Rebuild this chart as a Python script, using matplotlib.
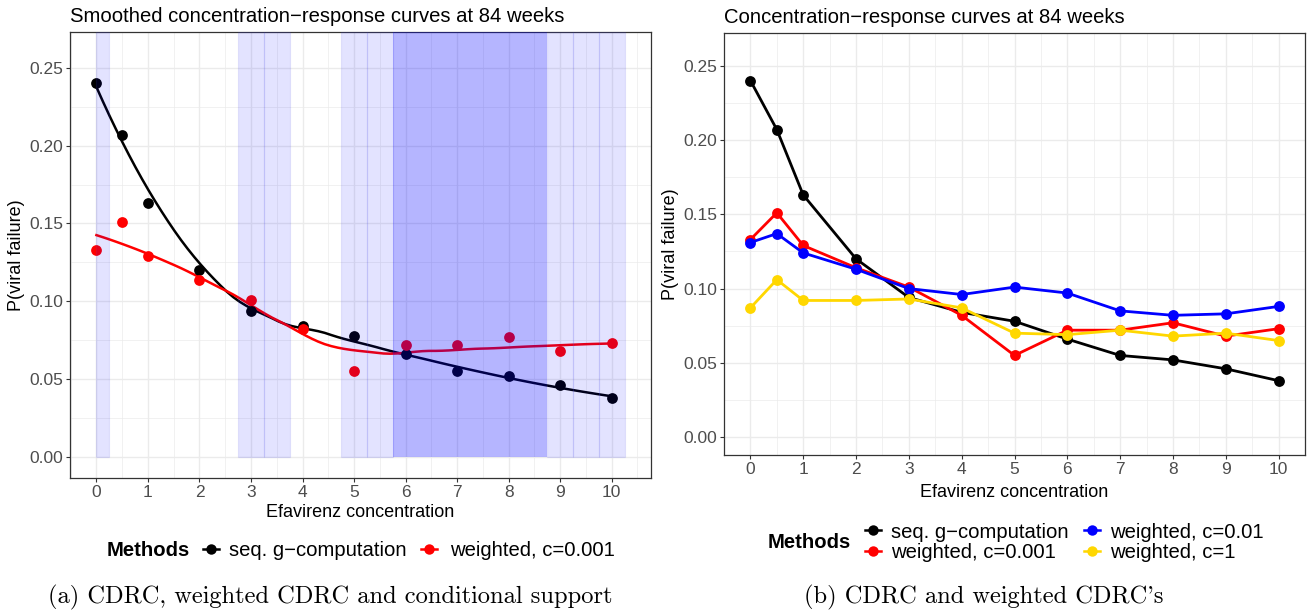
import numpy as np
import matplotlib
matplotlib.use("Agg")
import matplotlib.pyplot as plt
from matplotlib.lines import Line2D

# ---------------- data ----------------
conc = [0, 0.5, 1, 2, 3, 4, 5, 6, 7, 8, 9, 10]
seq_gcomp = [0.240, 0.207, 0.163, 0.120, 0.094, 0.084, 0.078, 0.066, 0.055, 0.052, 0.046, 0.038]
w_c0001 = [0.133, 0.151, 0.129, 0.114, 0.101, 0.082, 0.055, 0.072, 0.072, 0.077, 0.068, 0.073]
w_c001 = [0.131, 0.137, 0.124, 0.113, 0.100, 0.096, 0.101, 0.097, 0.085, 0.082, 0.083, 0.088]
w_c1 = [0.087, 0.106, 0.092, 0.092, 0.093, 0.087, 0.070, 0.069, 0.072, 0.068, 0.070, 0.065]

# conditional support intervals (x ranges)
support_light = [(0.0, 0.25), (2.75, 3.25), (3.25, 3.75), (4.75, 5.25), (5.25, 5.75),
                 (8.75, 9.25), (9.25, 9.75), (9.75, 10.25)]
support_dark = [(5.75, 8.75)]

x_ticks = [0, 1, 2, 3, 4, 5, 6, 7, 8, 9, 10]
y_ticks = [0.00, 0.05, 0.10, 0.15, 0.20, 0.25]
y_ticklabels = ["0.00", "0.05", "0.10", "0.15", "0.20", "0.25"]

MINUS = "\u2212"
labels = ["seq. g" + MINUS + "computation", "weighted, c=0.001", "weighted, c=0.01", "weighted, c=1"]
colors = ["black", "#FF0000", "#0000FF", "#FFD700"]


# ---------------- loess smoother (local quadratic, tricube, span 0.75, with
# kd-tree vertex + cubic Hermite interpolation as in R's loess) ----------------
def local_fit(x, y, x0, q):
    d = np.abs(x - x0)
    h = np.sort(d)[q - 1]
    w = np.clip(1 - (d / h) ** 3, 0, None) ** 3
    X = np.vstack([np.ones(len(x)), x - x0, (x - x0) ** 2]).T
    A = X.T @ (w[:, None] * X)
    b = X.T @ (w * y)
    beta = np.linalg.solve(A, b)
    return beta[0], beta[1]


def kd_vertices(xs_sorted, fc):
    verts = []

    def rec(pts):
        if len(pts) <= fc:
            return
        m = (len(pts) + 1) // 2  # 1-based lower median index
        v = (pts[m - 1] + pts[m]) / 2
        verts.append(v)
        rec(pts[:m])
        rec(pts[m:])

    rec(list(xs_sorted))
    return verts


def loess(x, y, xs, span=0.75, cell=0.2):
    x = np.asarray(x, float)
    y = np.asarray(y, float)
    n = len(x)
    q = int(np.floor(n * span))
    fc = max(1, int(np.floor(n * span * cell)))
    t = 0.005 * (x.max() - x.min())
    verts = sorted(set([x.min() - t, x.max() + t] + kd_vertices(np.sort(x), fc)))
    fits = [local_fit(x, y, v, q) for v in verts]
    out = []
    for x0 in xs:
        i = np.searchsorted(verts, x0) - 1
        i = min(max(i, 0), len(verts) - 2)
        v0, v1 = verts[i], verts[i + 1]
        (y0, s0), (y1, s1) = fits[i], fits[i + 1]
        hh = v1 - v0
        tt = (x0 - v0) / hh
        h00 = 2 * tt**3 - 3 * tt**2 + 1
        h10 = tt**3 - 2 * tt**2 + tt
        h01 = -2 * tt**3 + 3 * tt**2
        h11 = tt**3 - tt**2
        out.append(h00 * y0 + h10 * hh * s0 + h01 * y1 + h11 * hh * s1)
    return np.array(out)


plt.rcParams['font.family'] = ['Liberation Sans', 'DejaVu Sans']
W, H = 1309, 614
fig = plt.figure(figsize=(W / 100, H / 100), dpi=100)

TICK_FS = 12.5
AXT_FS = 13
TITLE_FS = 14.6
LEG_FS = 14.6


def style_axes(ax, xlim, ylim):
    ax.set_xlim(*xlim)
    ax.set_ylim(*ylim)
    ax.set_xticks(x_ticks)
    ax.set_xticks([v + 0.5 for v in range(-1, 11)], minor=True)
    ax.set_yticks(y_ticks)
    ax.set_yticklabels(y_ticklabels)
    ax.set_yticks([0.025, 0.075, 0.125, 0.175, 0.225], minor=True)
    ax.grid(which="major", color="#EBEBEB", linewidth=1.0, zorder=0)
    ax.grid(which="minor", color="#EBEBEB", linewidth=0.5, zorder=0)
    ax.set_axisbelow(True)
    ax.tick_params(which="major", length=3, width=0.8, color="#333333",
                   labelsize=TICK_FS, labelcolor="#4D4D4D", pad=2)
    ax.tick_params(which="minor", length=0)
    for s in ax.spines.values():
        s.set_color("#333333")
        s.set_linewidth(0.9)
    ax.set_ylabel("P(viral failure)", fontsize=AXT_FS, labelpad=3)


# ---------------- left panel ----------------
ax1 = fig.add_axes([70 / W, 1 - 478 / H, (651 - 70) / W, (478 - 32) / H])
style_axes(ax1, (-0.5125, 10.7625), (-0.0135, 0.273))
ax1.set_xlabel("Efavirenz concentration", fontsize=AXT_FS, labelpad=3)
xs = np.linspace(0, 10, 80)
ax1.plot(xs, loess(conc, seq_gcomp, xs), color=colors[0], lw=1.8, zorder=3)
ax1.plot(xs, loess(conc, w_c0001, xs), color=colors[1], lw=1.8, zorder=3)
ax1.scatter(conc, seq_gcomp, s=60, color=colors[0], zorder=4, linewidths=0)
ax1.scatter(conc, w_c0001, s=60, color=colors[1], zorder=4, linewidths=0)
for a, b in support_light:
    ax1.axvspan(a, b, ymin=0.0135 / 0.2865, ymax=1, facecolor=(0, 0, 1, 0.11),
                edgecolor=(0.3, 0.3, 0.9, 0.12), linewidth=0.8, zorder=5)
for a, b in support_dark:
    ax1.axvspan(a, b, ymin=0.0135 / 0.2865, ymax=1, facecolor=(0, 0, 1, 0.29),
                edgecolor="none", linewidth=0, zorder=5)
ax1.set_title("Smoothed concentration" + MINUS + "response curves at 84 weeks",
              loc="left", fontsize=TITLE_FS, pad=7)

# ---------------- right panel ----------------
ax2 = fig.add_axes([724 / W, 1 - 455 / H, (1305 - 724) / W, (455 - 33) / H])
style_axes(ax2, (-0.5, 10.5), (-0.012, 0.272))
ax2.set_xlabel("Efavirenz concentration", fontsize=AXT_FS, labelpad=5)
for series, c in zip([seq_gcomp, w_c0001, w_c001, w_c1], colors):
    ax2.plot(conc, series, color=c, lw=2.0, marker="o", markersize=7.8,
             markeredgewidth=0, zorder=3)
ax2.set_title("Concentration" + MINUS + "response curves at 84 weeks",
              loc="left", fontsize=TITLE_FS, pad=7)


# ---------------- legends (drawn in figure pixel positions) ----------------
def key(xc, yc, c):
    yf = 1 - yc / H
    fig.add_artist(Line2D([(xc - 8) / W, (xc + 8) / W], [yf, yf], color=c, lw=1.8,
                          transform=fig.transFigure))
    fig.add_artist(Line2D([xc / W], [yf], color=c, marker="o", markersize=7.5,
                          markeredgewidth=0, transform=fig.transFigure))


def label(x, yc, s, **kw):
    fig.text(x / W, 1 - yc / H, s, fontsize=LEG_FS, va="center_baseline", ha="left", **kw)


label(107, 549, "Methods", fontweight="bold")
key(211, 549, colors[0]); label(229, 549, labels[0])
key(429, 549, colors[1]); label(450, 549, labels[1])

label(768, 540, "Methods", fontweight="bold")
key(873, 530, colors[0]); label(891, 530, labels[0])
key(873, 551, colors[1]); label(891, 551, labels[1])
key(1092, 530, colors[2]); label(1110, 530, labels[2])
key(1092, 551, colors[3]); label(1110, 551, labels[3])

# ---------------- captions ----------------
fig.text(330 / W, 1 - 597 / H, "(a) CDRC, weighted CDRC and conditional support",
         family="cmr10", fontsize=17.6, ha="center", va="center")
fig.text(984 / W, 1 - 597 / H, "(b) CDRC and weighted CDRC's",
         family="cmr10", fontsize=17.6, ha="center", va="center")

fig.savefig("out.png", dpi=100)
